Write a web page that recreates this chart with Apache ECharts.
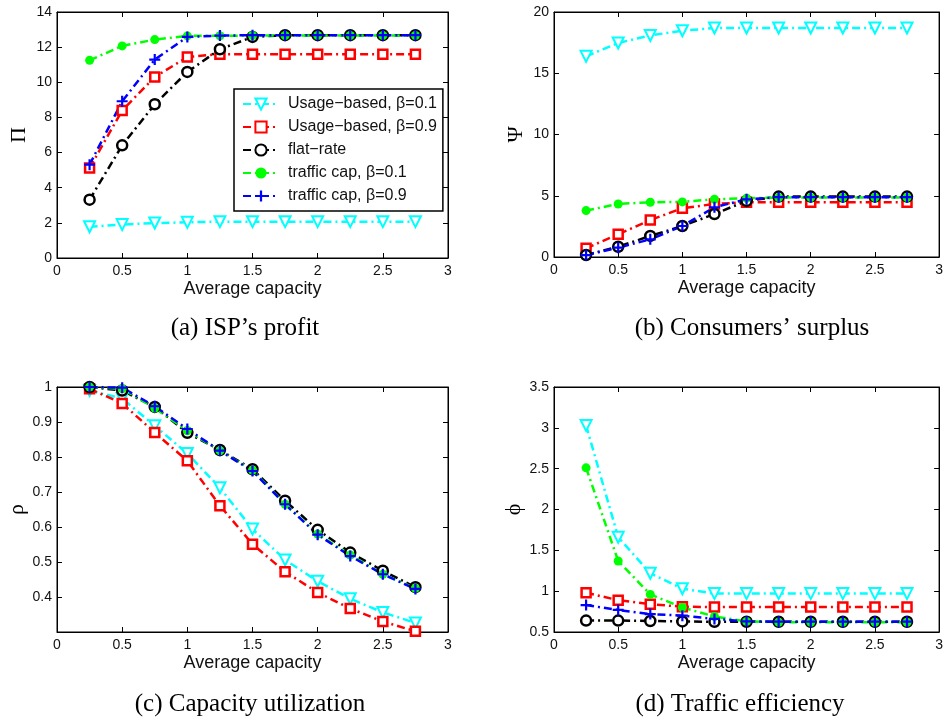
<!DOCTYPE html>
<html>
<head>
<meta charset="utf-8">
<script src="https://cdn.jsdelivr.net/npm/echarts@6/dist/echarts.min.js"></script>
<style>
  html, body { margin: 0; padding: 0; background: #fff; }
  #chart { width: 946px; height: 722px; }
</style>
</head>
<body>
<div id="chart"></div>
<script>
// average capacity (x)
var capacity = [0.25, 0.5, 0.75, 1, 1.25, 1.5, 1.75, 2, 2.25, 2.5, 2.75];

var seriesNames = ['Usage\u2212based, \u03b2=0.1', 'Usage\u2212based, \u03b2=0.9', 'flat\u2212rate', 'traffic cap, \u03b2=0.1', 'traffic cap, \u03b2=0.9'];

// (a) ISP's profit
var profitUsage01 = [1.78, 1.9, 1.99, 2.03, 2.07, 2.07, 2.07, 2.07, 2.07, 2.07, 2.07];
var profitUsage09 = [5.12, 8.4, 10.3, 11.44, 11.6, 11.6, 11.6, 11.6, 11.6, 11.6, 11.6];
var profitFlat = [3.32, 6.41, 8.75, 10.59, 11.88, 12.58, 12.68, 12.68, 12.68, 12.68, 12.68];
var profitCap01 = [11.25, 12.07, 12.43, 12.64, 12.65, 12.66, 12.66, 12.66, 12.66, 12.66, 12.66];
var profitCap09 = [5.31, 8.92, 11.29, 12.58, 12.66, 12.68, 12.68, 12.68, 12.68, 12.68, 12.68];

// (b) consumers' surplus
var surplusUsage01 = [16.38, 17.47, 18.09, 18.47, 18.69, 18.69, 18.69, 18.69, 18.69, 18.69, 18.69];
var surplusUsage09 = [0.71, 1.85, 3.02, 3.98, 4.33, 4.47, 4.47, 4.47, 4.47, 4.47, 4.47];
var surplusFlat = [0.16, 0.84, 1.72, 2.53, 3.51, 4.58, 4.93, 4.93, 4.93, 4.93, 4.93];
var surplusCap01 = [3.79, 4.33, 4.47, 4.5, 4.71, 4.8, 4.85, 4.85, 4.85, 4.85, 4.85];
var surplusCap09 = [0.16, 0.76, 1.44, 2.53, 4.06, 4.71, 4.88, 4.88, 4.88, 4.88, 4.88];

// (c) capacity utilization
var utilUsage01 = [0.99, 0.967, 0.889, 0.81, 0.712, 0.594, 0.506, 0.445, 0.395, 0.356, 0.326];
var utilUsage09 = [0.995, 0.953, 0.87, 0.789, 0.661, 0.551, 0.472, 0.413, 0.367, 0.33, 0.302];
var utilFlat = [1.0, 0.99, 0.943, 0.869, 0.82, 0.765, 0.675, 0.592, 0.527, 0.475, 0.428];
var utilCap01 = [1.0, 0.995, 0.94, 0.875, 0.818, 0.762, 0.665, 0.58, 0.52, 0.465, 0.425];
var utilCap09 = [1.0, 0.998, 0.945, 0.88, 0.818, 0.76, 0.665, 0.578, 0.517, 0.465, 0.423];

// (d) traffic efficiency
var effUsage01 = [3.03, 1.66, 1.22, 1.03, 0.97, 0.97, 0.97, 0.97, 0.97, 0.97, 0.97];
var effUsage09 = [0.98, 0.89, 0.84, 0.81, 0.805, 0.805, 0.805, 0.805, 0.805, 0.805, 0.805];
var effFlat = [0.64, 0.64, 0.635, 0.63, 0.625, 0.625, 0.625, 0.625, 0.625, 0.625, 0.625];
var effCap01 = [2.51, 1.37, 0.96, 0.8, 0.69, 0.63, 0.62, 0.62, 0.62, 0.62, 0.62];
var effCap09 = [0.83, 0.77, 0.72, 0.7, 0.66, 0.63, 0.626, 0.626, 0.626, 0.626, 0.626];

var panelData = [
  [profitUsage01, profitUsage09, profitFlat, profitCap01, profitCap09],
  [surplusUsage01, surplusUsage09, surplusFlat, surplusCap01, surplusCap09],
  [utilUsage01, utilUsage09, utilFlat, utilCap01, utilCap09],
  [effUsage01, effUsage09, effFlat, effCap01, effCap09]
];
var yNames = ['\u03a0', '\u03a8', '\u03c1', '\u03d5'];
var yMin = [0, 0, 0.3, 0.5];
var yMax = [14, 20, 1, 3.5];
var yStep = [2, 5, 0.1, 0.5];
var captions = ['(a) ISP\u2019s profit', '(b) Consumers\u2019 surplus', '(c) Capacity utilization', '(d) Traffic efficiency'];

var grids = [
  { left: 57, top: 12, width: 391, height: 246 },
  { left: 554, top: 12, width: 390, height: 245 },
  { left: 57, top: 387, width: 391, height: 245 },
  { left: 554, top: 387, width: 390, height: 245 }
];
var captionPos = [[245, 328], [752, 328], [250, 704], [740, 704]];

var dash = [8, 4, 2, 4];
var styles = [
  { color: '#00ffff', symbol: 'triangle', rotate: 180, size: 11, fill: '#fff', bw: 2 },
  { color: '#ff0000', symbol: 'rect', rotate: 0, size: 9, fill: '#fff', bw: 2.5 },
  { color: '#000000', symbol: 'circle', rotate: 0, size: 10, fill: '#fff', bw: 2.5 },
  { color: '#00ff00', symbol: 'circle', rotate: 0, size: 9, fill: '#00ff00', bw: 0 },
  { color: '#0000ff', symbol: 'path://M4,0H6V4H10V6H6V10H4V6H0V4H4Z', rotate: 0, size: 11, fill: '#0000ff', bw: 0 }
];

var font = 'Liberation Sans, Arial, sans-serif';
var xAxes = [], yAxes = [], series = [], graphics = [];

for (var p = 0; p < 4; p++) {
  xAxes.push({
    type: 'value', gridIndex: p, min: 0, max: 3, interval: 0.5,
    name: 'Average capacity', nameLocation: 'middle', nameGap: 22,
    nameTextStyle: { fontFamily: font, fontSize: 18, color: '#111' },
    axisLine: { onZero: false, lineStyle: { color: '#000', width: 1 } },
    axisTick: { inside: true, length: 5, lineStyle: { color: '#000' } },
    axisLabel: { fontFamily: font, fontSize: 14, color: '#111', margin: 6 },
    splitLine: { show: false }
  });
  xAxes.push({
    type: 'value', gridIndex: p, position: 'top', min: 0, max: 3, interval: 0.5,
    axisLine: { onZero: false, lineStyle: { color: '#000', width: 1 } },
    axisTick: { inside: true, length: 5, lineStyle: { color: '#000' } },
    axisLabel: { show: false }, splitLine: { show: false }
  });
  yAxes.push({
    type: 'value', gridIndex: p, min: yMin[p], max: yMax[p], interval: yStep[p],
    name: yNames[p], nameLocation: 'middle', nameGap: 27,
    nameTextStyle: { fontFamily: 'Liberation Serif, serif', fontSize: 22, color: '#000' },
    axisLine: { onZero: false, lineStyle: { color: '#000', width: 1 } },
    axisTick: { inside: true, length: 5, lineStyle: { color: '#000' } },
    axisLabel: {
      fontFamily: font, fontSize: 14, color: '#111', margin: 5,
      formatter: (function (pi) {
        return function (v) {
          if (pi === 2 && v < 0.35) return '';
          return String(+v.toFixed(1));
        };
      })(p)
    },
    splitLine: { show: false }
  });
  yAxes.push({
    type: 'value', gridIndex: p, position: 'right', min: yMin[p], max: yMax[p], interval: yStep[p],
    axisLine: { onZero: false, lineStyle: { color: '#000', width: 1 } },
    axisTick: { inside: true, length: 5, lineStyle: { color: '#000' } },
    axisLabel: { show: false }, splitLine: { show: false }
  });

  for (var s = 0; s < 5; s++) {
    var st = styles[s];
    var vals = panelData[p][s];
    var pts = [];
    for (var i = 0; i < capacity.length; i++) pts.push([capacity[i], vals[i]]);
    series.push({
      name: seriesNames[s], type: 'line',
      xAxisIndex: p * 2, yAxisIndex: p * 2,
      data: pts,
      symbol: st.symbol, symbolRotate: st.rotate, symbolSize: st.size,
      showAllSymbol: true,
      lineStyle: { color: st.color, width: 2.5, type: dash },
      itemStyle: { color: st.fill, borderColor: st.color, borderWidth: st.bw },
      emphasis: { disabled: true },
      animation: false
    });
  }

  graphics.push({
    type: 'text', x: captionPos[p][0], y: captionPos[p][1],
    style: {
      text: captions[p], fontFamily: 'Liberation Serif, Times New Roman, serif', fontSize: 25,
      fill: '#000', textAlign: 'center', textVerticalAlign: 'middle'
    }
  });
}

var chart = echarts.init(document.getElementById('chart'));
chart.setOption({
  backgroundColor: '#fff',
  animation: false,
  grid: grids.map(function (g) {
    return { left: g.left, top: g.top, width: g.width, height: g.height, show: true, borderColor: '#000', borderWidth: 1, containLabel: false };
  }),
  xAxis: xAxes,
  yAxis: yAxes,
  legend: {
    data: seriesNames,
    left: 234, top: 89,
    orient: 'vertical',
    backgroundColor: '#fff',
    borderColor: '#000', borderWidth: 1.5, borderRadius: 0,
    padding: [7, 6, 7, 8],
    itemWidth: 36, itemHeight: 14, itemGap: 7,
    textStyle: { fontFamily: font, fontSize: 16, color: '#111', padding: [0, 0, 0, 4] },
    selectedMode: false
  },
  series: series,
  graphic: graphics
});
</script>
</body>
</html>
